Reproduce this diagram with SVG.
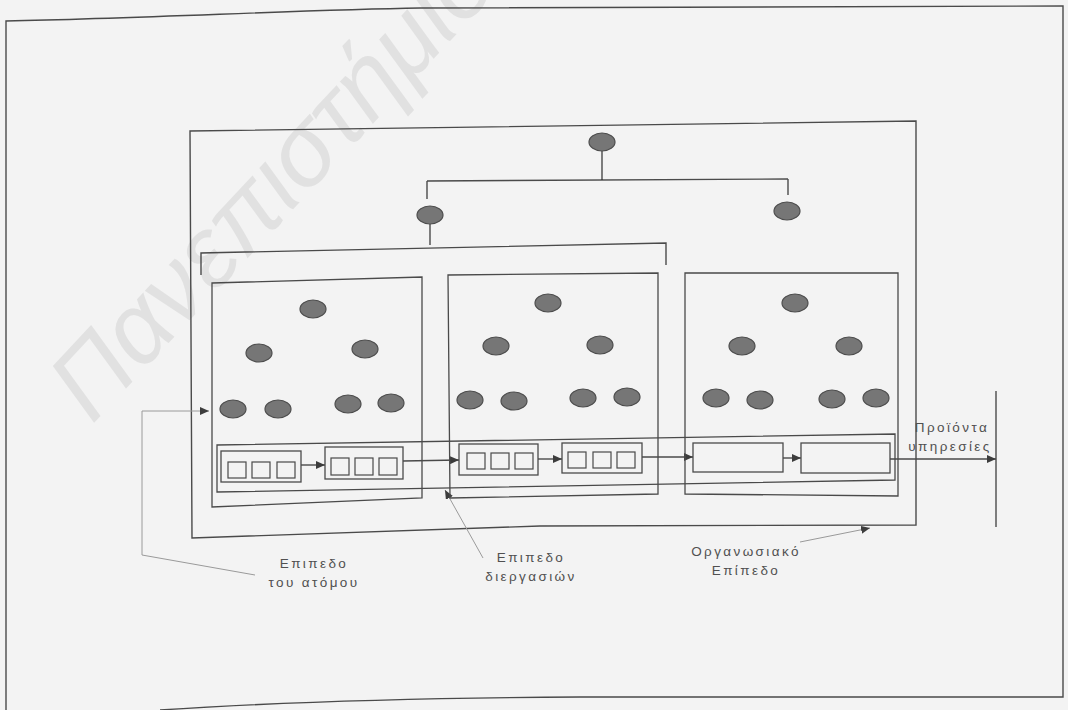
<svg xmlns="http://www.w3.org/2000/svg" width="1068" height="710" viewBox="0 0 1068 710">
<style>
.ln{fill:none;stroke:#4a4a4a;stroke-width:1.4}
.bx{fill:none;stroke:#4a4a4a;stroke-width:1.3}
.sq{fill:none;stroke:#4a4a4a;stroke-width:1.2}
.el{fill:#767676;stroke:#4d4d4d;stroke-width:1.2}
.co{fill:none;stroke:#9a9a9a;stroke-width:1}
.lb{font-family:"Liberation Sans",Arial,sans-serif;font-size:13.5px;letter-spacing:2.4px;fill:#505050;text-anchor:middle}
.wm{font-family:"Liberation Sans",Arial,sans-serif;font-style:italic;font-size:100px;fill:#e1e1e1}
</style>
<defs>
<marker id="ah" markerUnits="userSpaceOnUse" markerWidth="9" markerHeight="8" refX="9" refY="4" orient="auto"><path d="M0,0 L9,4 L0,8 Z" fill="#3c3c3c"/></marker>
</defs>
<rect width="1068" height="710" fill="#f3f3f3"/>
<text class="wm" transform="translate(92,425) rotate(-47)">Πανεπιστήμιο</text>
<path class="ln" d="M6,710 L6,21 C150,18 300,10 420,8 L1063,6 L1063,697 L580,697 C400,698 250,704 160,710"/>
<g id="frame"><path class="ln" d="M190,131 L916,121 L916,525 L540,526 L192,538 Z"/></g>
<g id="connectors">
<path class="ln" d="M602,151 V180 M427,181 L788,179 M427,181 V199 M788,179 V195 M430,224 V245 M201,275 V253 L666,243 V265"/>
<path class="ln" d="M301,465 H325" marker-end="url(#ah)"/>
<path class="ln" d="M403,461 L459,460" marker-end="url(#ah)"/>
<path class="ln" d="M538,459 H562" marker-end="url(#ah)"/>
<path class="ln" d="M642,457 H693" marker-end="url(#ah)"/>
<path class="ln" d="M783,458 H801" marker-end="url(#ah)"/>
<path class="ln" d="M890,459 H996" marker-end="url(#ah)"/>
<path class="ln" d="M996,391 V527"/>
<path class="co" d="M255,575 L142,555 V411 H209" marker-end="url(#ah)"/>
<path class="co" d="M483,558 L445,490" marker-end="url(#ah)"/>
<path class="co" d="M800,542 L870,528" marker-end="url(#ah)"/>
</g>
<g id="top-nodes">
<ellipse class="el" cx="602" cy="142" rx="13" ry="9"/>
<ellipse class="el" cx="430" cy="215" rx="13" ry="9"/>
<ellipse class="el" cx="787" cy="211" rx="13" ry="9"/>
</g>
<g id="panel1">
<path class="bx" d="M212,283 L422,277 L422,498 L212,507 Z"/>
<ellipse class="el" cx="313" cy="309" rx="13" ry="9"/>
<ellipse class="el" cx="259" cy="353" rx="13" ry="9"/>
<ellipse class="el" cx="365" cy="349" rx="13" ry="9"/>
<ellipse class="el" cx="233" cy="409" rx="13" ry="9"/>
<ellipse class="el" cx="278" cy="409" rx="13" ry="9"/>
<ellipse class="el" cx="348" cy="404" rx="13" ry="9"/>
<ellipse class="el" cx="391" cy="403" rx="13" ry="9"/>
</g>
<g id="panel2">
<path class="bx" d="M448,275 L658,273 L658,494 L450,498 Z"/>
<ellipse class="el" cx="548" cy="303" rx="13" ry="9"/>
<ellipse class="el" cx="496" cy="346" rx="13" ry="9"/>
<ellipse class="el" cx="600" cy="345" rx="13" ry="9"/>
<ellipse class="el" cx="470" cy="400" rx="13" ry="9"/>
<ellipse class="el" cx="514" cy="401" rx="13" ry="9"/>
<ellipse class="el" cx="583" cy="398" rx="13" ry="9"/>
<ellipse class="el" cx="627" cy="397" rx="13" ry="9"/>
</g>
<g id="panel3">
<path class="bx" d="M685,273 L898,273 L898,496 L685,494 Z"/>
<ellipse class="el" cx="795" cy="303" rx="13" ry="9"/>
<ellipse class="el" cx="742" cy="346" rx="13" ry="9"/>
<ellipse class="el" cx="849" cy="346" rx="13" ry="9"/>
<ellipse class="el" cx="716" cy="398" rx="13" ry="9"/>
<ellipse class="el" cx="760" cy="400" rx="13" ry="9"/>
<ellipse class="el" cx="832" cy="399" rx="13" ry="9"/>
<ellipse class="el" cx="876" cy="398" rx="13" ry="9"/>
</g>
<g id="process-band"><path class="bx" d="M217,445 L895,434 L895,480 L217,492 Z"/></g>
<g id="box1"><rect class="bx" x="221" y="451" width="80" height="31"/>
<rect class="sq" x="228" y="462" width="18" height="16"/><rect class="sq" x="252" y="462" width="18" height="16"/><rect class="sq" x="277" y="462" width="18" height="16"/></g>
<g id="box2"><rect class="bx" x="325" y="447" width="78" height="32"/>
<rect class="sq" x="331" y="458" width="18" height="17"/><rect class="sq" x="355" y="458" width="18" height="17"/><rect class="sq" x="379" y="458" width="18" height="17"/></g>
<g id="box3"><rect class="bx" x="459" y="444" width="79" height="31"/>
<rect class="sq" x="467" y="453" width="18" height="16"/><rect class="sq" x="491" y="453" width="18" height="16"/><rect class="sq" x="515" y="453" width="18" height="16"/></g>
<g id="box4"><rect class="bx" x="562" y="443" width="80" height="30"/>
<rect class="sq" x="568" y="452" width="18" height="16"/><rect class="sq" x="593" y="452" width="18" height="16"/><rect class="sq" x="617" y="452" width="18" height="16"/></g>
<g id="box5"><rect class="bx" x="693" y="443" width="90" height="29"/></g>
<g id="box6"><rect class="bx" x="801" y="443" width="89" height="30"/></g>
<g id="labels">
<text class="lb" x="314" y="568">Επιπεδο</text>
<text class="lb" x="314" y="587">του ατόμου</text>
<text class="lb" x="531" y="562">Επιπεδο</text>
<text class="lb" x="531" y="581">διεργασιών</text>
<text class="lb" x="746" y="556">Οργανωσιακό</text>
<text class="lb" x="746" y="575">Επίπεδο</text>
<text class="lb" x="952" y="432">Προϊόντα</text>
<text class="lb" x="950" y="451">υπηρεσίες</text>
</g>
</svg>
